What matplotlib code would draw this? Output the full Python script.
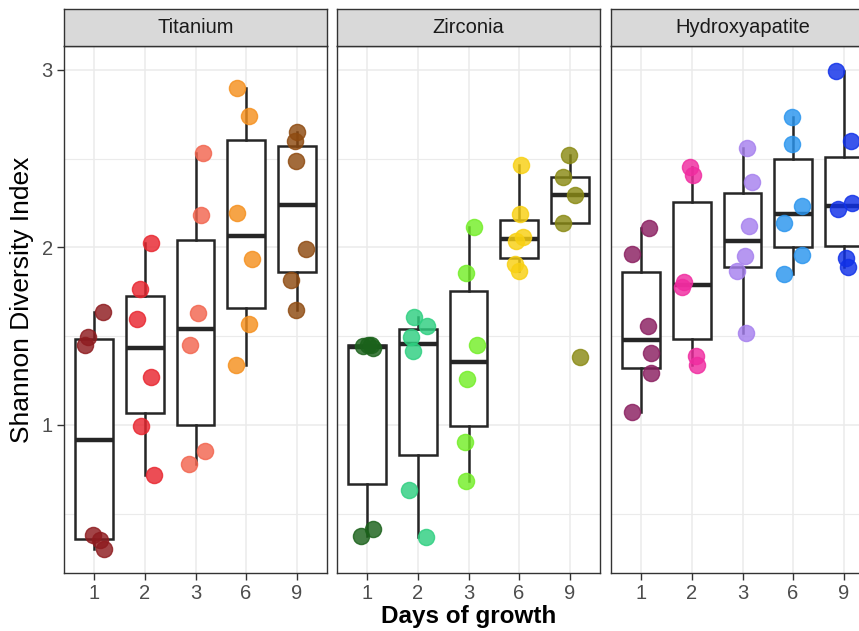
import matplotlib
matplotlib.use('Agg')
import matplotlib.pyplot as plt

plt.rcParams['font.family'] = ['Liberation Sans', 'DejaVu Sans']

# --- data ---
materials = ['Titanium', 'Zirconia', 'Hydroxyapatite']
days = ['1', '2', '3', '6', '9']

titanium = [
    [1.635, 1.496, 1.451, 0.377, 0.353, 0.303],
    [2.022, 1.767, 1.596, 1.271, 0.996, 0.715],
    [2.530, 2.181, 1.629, 1.451, 0.851, 0.779],
    [2.897, 2.739, 2.193, 1.935, 1.567, 1.335],
    [2.651, 2.599, 2.487, 1.989, 1.819, 1.645],
]
zirconia = [
    [1.452, 1.445, 1.435, 1.448, 0.411, 0.373],
    [1.606, 1.558, 1.496, 1.418, 0.632, 0.367],
    [2.113, 1.854, 1.451, 1.258, 0.905, 0.686],
    [2.462, 2.187, 2.061, 2.036, 1.906, 1.867],
    [2.520, 2.394, 2.297, 2.138, 1.383],
]
hydroxyapatite = [
    [2.109, 1.960, 1.558, 1.403, 1.292, 1.074],
    [2.452, 2.409, 1.805, 1.775, 1.387, 1.335],
    [2.559, 2.367, 2.123, 1.949, 1.867, 1.519],
    [2.733, 2.584, 2.235, 2.138, 1.955, 1.848],
    [2.996, 2.597, 2.216, 2.249, 1.941, 1.887],
]

# horizontal jitter of each point (category units)
titanium_jitter = [
    [0.18, -0.13, -0.18, -0.02, 0.12, 0.20],
    [0.13, -0.09, -0.15, 0.13, -0.08, 0.18],
    [0.15, 0.11, 0.05, -0.11, 0.18, -0.13],
    [-0.17, 0.05, -0.18, 0.11, 0.05, -0.20],
    [0.00, -0.04, -0.01, 0.19, -0.11, -0.01],
]
zirconia_jitter = [
    [0.01, -0.09, 0.11, 0.07, 0.11, -0.13],
    [-0.08, 0.17, -0.13, -0.10, -0.18, 0.15],
    [0.10, -0.05, 0.17, -0.03, -0.07, -0.05],
    [0.03, 0.02, 0.08, -0.07, -0.08, 0.00],
    [-0.01, -0.13, 0.10, -0.13, 0.20],
]
hydroxyapatite_jitter = [
    [0.16, -0.18, 0.13, 0.20, 0.20, -0.18],
    [-0.03, 0.03, -0.16, -0.20, 0.08, 0.10],
    [0.08, 0.18, 0.13, 0.05, -0.11, 0.07],
    [-0.03, -0.03, 0.17, -0.17, 0.18, -0.17],
    [-0.16, 0.15, -0.11, 0.17, 0.04, 0.09],
]

titanium_colors = ['#8E1B1F', '#E8262F', '#F2654F', '#F5901E', '#8E4A10']
zirconia_colors = ['#1B621B', '#2ECF80', '#74EE28', '#F8D012', '#8A8A14']
hydroxyapatite_colors = ['#8A1F60', '#F02CA0', '#A680EE', '#2A95EE', '#1030E8']

panels = [
    (titanium, titanium_jitter, titanium_colors),
    (zirconia, zirconia_jitter, zirconia_colors),
    (hydroxyapatite, hydroxyapatite_jitter, hydroxyapatite_colors),
]

W, H = 859, 631
fig = plt.figure(figsize=(W / 100, H / 100), dpi=100)

panel_lefts = [64, 337, 611]
panel_w = 263
panel_top, panel_bottom = 46, 573
strip_top = 9

for i, (name, (values, jitter, colors)) in enumerate(zip(materials, panels)):
    left = panel_lefts[i]
    ax = fig.add_axes([left / W, (H - panel_bottom) / H, panel_w / W, (panel_bottom - panel_top) / H])
    positions = list(range(1, len(days) + 1))

    ax.boxplot(values, positions=positions, widths=0.75, whis=1.5, showfliers=False,
               showcaps=False, patch_artist=True,
               boxprops=dict(facecolor='white', edgecolor='#262626', linewidth=1.8),
               whiskerprops=dict(color='#262626', linewidth=1.8),
               medianprops=dict(color='#262626', linewidth=3.2),
               zorder=2)

    for k, (vals, jit, col) in enumerate(zip(values, jitter, colors)):
        xs = [positions[k] + j for j in jit]
        ax.scatter(xs, vals, s=135, color=col, alpha=0.82, edgecolors=col,
                   linewidths=1.0, zorder=3)

    ax.set_xlim(0.4, 5.6)
    ax.set_ylim(0.165, 3.135)
    ax.set_yticks([1, 2, 3])
    ax.set_yticks([0.5, 1.5, 2.5], minor=True)
    ax.set_xticks(positions)
    ax.set_xticklabels(days)
    ax.grid(True, which='major', color='#EBEBEB', linewidth=1.1, zorder=0)
    ax.grid(True, which='minor', axis='y', color='#EBEBEB', linewidth=0.8, zorder=0)
    ax.set_axisbelow(True)
    ax.tick_params(axis='both', which='major', length=5, width=1, color='#333333',
                   labelsize=14.5, labelcolor='#4D4D4D', pad=3)
    ax.tick_params(axis='y', which='minor', length=0)
    for sp in ax.spines.values():
        sp.set_color('#333333')
        sp.set_linewidth(1.0)
    if i == 0:
        ax.set_yticklabels(['1', '2', '3'])
    else:
        ax.tick_params(axis='y', which='both', left=False, labelleft=False)

    # facet strip
    sax = fig.add_axes([left / W, (H - panel_top) / H, panel_w / W, (panel_top - strip_top) / H])
    sax.set_xticks([])
    sax.set_yticks([])
    sax.set_facecolor('#D9D9D9')
    for sp in sax.spines.values():
        sp.set_color('#333333')
        sp.set_linewidth(1.0)
    sax.text(0.5, 0.5, name, ha='center', va='center', fontsize=14.5, color='#1A1A1A',
             transform=sax.transAxes)

fig.text(22 / W, 1 - 300 / H, 'Shannon Diversity Index', rotation=90, ha='center',
         va='center', fontsize=19)
fig.text((337 + 263 / 2) / W, 1 - 617 / H, 'Days of growth', ha='center', va='center',
         fontsize=17.5, fontweight='bold')

fig.savefig('out.png', dpi=100)
